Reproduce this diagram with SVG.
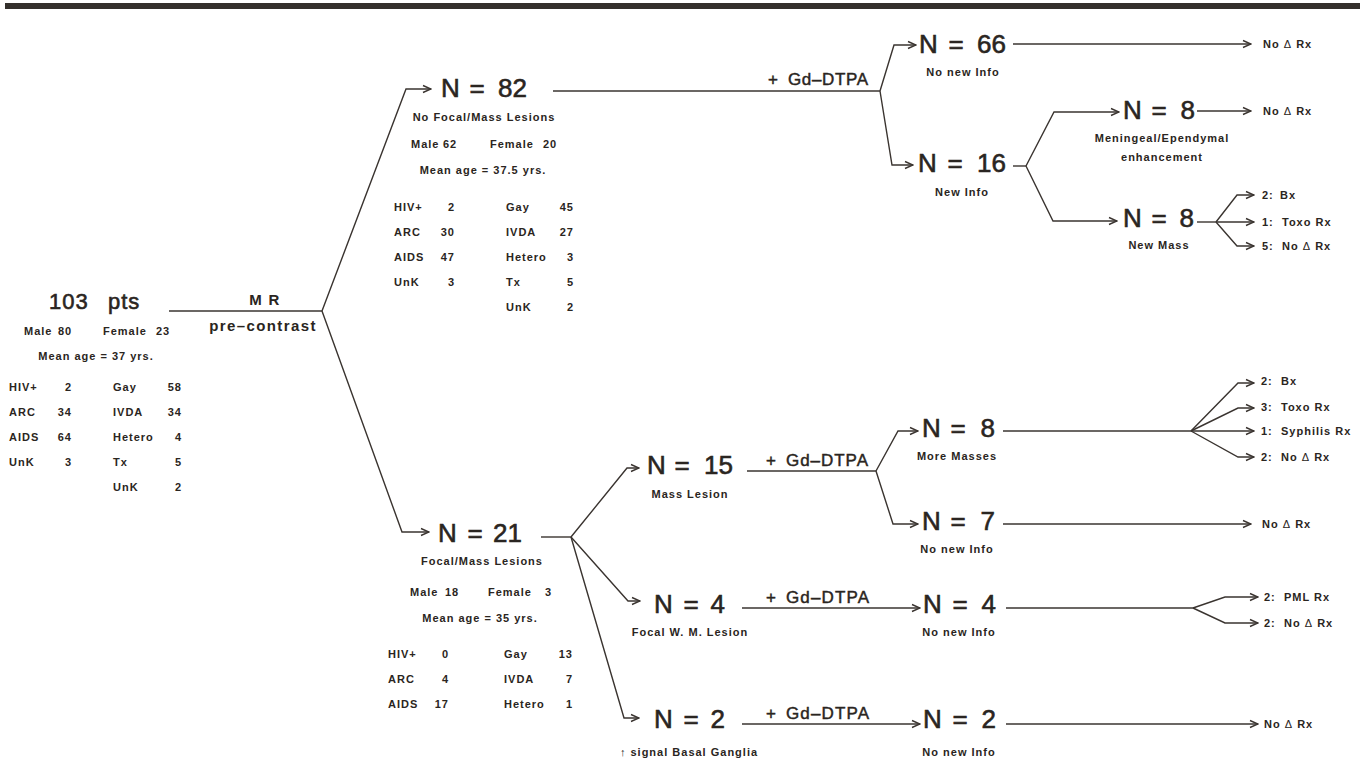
<svg xmlns="http://www.w3.org/2000/svg" width="1365" height="761" viewBox="0 0 1365 761">
<style>
text{font-family:"Liberation Sans",Arial,Helvetica,sans-serif;fill:#2a2521}
.big{font-size:26px;stroke:#2a2521;stroke-width:0.6}
.mid{font-size:17px;stroke:#2a2521;stroke-width:0.45}
.s{font-size:11px;font-weight:bold;letter-spacing:1px}
.t{font-size:15px;font-weight:bold;letter-spacing:1.4px}
.c{text-anchor:middle}
.e{text-anchor:end}
.d{font-weight:normal}
.ln{fill:none;stroke:#3a3430;stroke-width:1.4}
.ar{fill:none;stroke:#3a3430;stroke-width:1.4;marker-end:url(#ah)}
</style>
<defs>
<marker id="ah" markerWidth="10" markerHeight="10" viewBox="0 0 10 10" refX="9" refY="5" orient="auto" markerUnits="userSpaceOnUse">
<path d="M1,1.5 L9,5 L1,8.5" fill="none" stroke="#3a3430" stroke-width="1.4"/>
</marker>
</defs>
<rect x="5" y="3" width="1355" height="6" fill="#34302c"/>

<g id="connectors">
<path class="ln" d="M169,311 H322"/>
<path class="ar" d="M322,311 L406,89 H431"/>
<path class="ar" d="M322,311 L402,532 H429"/>
<path class="ln" d="M553,91 H880"/>
<path class="ar" d="M880,91 L894,45 H916"/>
<path class="ar" d="M880,91 L892,165 H913"/>
<path class="ar" d="M1013,44 H1251"/>
<path class="ln" d="M1013,166 H1026"/>
<path class="ar" d="M1026,166 L1054,112 H1119"/>
<path class="ar" d="M1026,166 L1053,221 H1117"/>
<path class="ar" d="M1197,111 H1251"/>
<path class="ln" d="M1197,222 H1216"/>
<path class="ar" d="M1216,222 L1237,195 H1254"/>
<path class="ar" d="M1216,222 H1254"/>
<path class="ar" d="M1216,222 L1237,246 H1254"/>
<path class="ln" d="M541,537 H571"/>
<path class="ar" d="M571,537 L627,468 H639"/>
<path class="ar" d="M571,537 L628,601 H640"/>
<path class="ar" d="M571,537 L624,718 H639"/>
<path class="ln" d="M747,471 H876"/>
<path class="ar" d="M876,471 L898,431 H918"/>
<path class="ar" d="M876,471 L893,524 H918"/>
<path class="ln" d="M1003,431 H1191"/>
<path class="ar" d="M1191,431 L1238,383 H1254"/>
<path class="ar" d="M1191,431 L1238,408 H1254"/>
<path class="ar" d="M1191,431 H1254"/>
<path class="ar" d="M1191,431 L1238,457 H1254"/>
<path class="ar" d="M1003,524 H1251"/>
<path class="ar" d="M742,608 H920"/>
<path class="ln" d="M1006,608 H1193"/>
<path class="ar" d="M1193,608 L1225,597 H1258"/>
<path class="ar" d="M1193,608 L1225,623 H1258"/>
<path class="ar" d="M742,724 H920"/>
<path class="ar" d="M1006,724 H1258"/>
</g>

<g id="edge-labels">
<text class="t c" x="265" y="305">M R</text>
<text class="t c" x="263" y="331">pre–contrast</text>
<text class="mid" x="768" y="85">+</text><text class="mid" x="788" y="85" textLength="80" lengthAdjust="spacing">Gd–DTPA</text>
<text class="mid" x="766" y="466">+</text><text class="mid" x="786" y="466" textLength="82" lengthAdjust="spacing">Gd–DTPA</text>
<text class="mid" x="766" y="603">+</text><text class="mid" x="786" y="603" textLength="83" lengthAdjust="spacing">Gd–DTPA</text>
<text class="mid" x="766" y="719">+</text><text class="mid" x="786" y="719" textLength="83" lengthAdjust="spacing">Gd–DTPA</text>
</g>

<g id="node-103">
<text class="big" x="49" y="309" style="font-size:22px;letter-spacing:1px">103</text>
<text class="big" x="108" y="309" style="font-size:22px;letter-spacing:1px">pts</text>
<text class="s" x="24" y="335">Male</text><text class="s" x="58" y="335">80</text>
<text class="s" x="103" y="335">Female</text><text class="s" x="156" y="335">23</text>
<text class="s c" x="96" y="360">Mean age = 37 yrs.</text>
<text class="s" x="9" y="391">HIV+</text><text class="s e" x="72" y="391">2</text>
<text class="s" x="9" y="416">ARC</text><text class="s e" x="72" y="416">34</text>
<text class="s" x="9" y="441">AIDS</text><text class="s e" x="72" y="441">64</text>
<text class="s" x="9" y="466">UnK</text><text class="s e" x="72" y="466">3</text>
<text class="s" x="113" y="391">Gay</text><text class="s e" x="182" y="391">58</text>
<text class="s" x="113" y="416">IVDA</text><text class="s e" x="182" y="416">34</text>
<text class="s" x="113" y="441">Hetero</text><text class="s e" x="182" y="441">4</text>
<text class="s" x="113" y="466">Tx</text><text class="s e" x="182" y="466">5</text>
<text class="s" x="113" y="491">UnK</text><text class="s e" x="182" y="491">2</text>
</g>

<g id="node-82">
<text class="big" x="441" y="97">N</text><text class="big c" x="477" y="97">=</text><text class="big e" x="527" y="97">82</text>
<text class="s c" x="484" y="121">No Focal/Mass Lesions</text>
<text class="s" x="411" y="148">Male</text><text class="s" x="443" y="148">62</text>
<text class="s" x="490" y="148">Female</text><text class="s" x="543" y="148">20</text>
<text class="s c" x="483" y="174">Mean age = 37.5 yrs.</text>
<text class="s" x="394" y="211">HIV+</text><text class="s e" x="455" y="211">2</text>
<text class="s" x="394" y="236">ARC</text><text class="s e" x="455" y="236">30</text>
<text class="s" x="394" y="261">AIDS</text><text class="s e" x="455" y="261">47</text>
<text class="s" x="394" y="286">UnK</text><text class="s e" x="455" y="286">3</text>
<text class="s" x="506" y="211">Gay</text><text class="s e" x="574" y="211">45</text>
<text class="s" x="506" y="236">IVDA</text><text class="s e" x="574" y="236">27</text>
<text class="s" x="506" y="261">Hetero</text><text class="s e" x="574" y="261">3</text>
<text class="s" x="506" y="286">Tx</text><text class="s e" x="574" y="286">5</text>
<text class="s" x="506" y="311">UnK</text><text class="s e" x="574" y="311">2</text>
</g>

<g id="node-21">
<text class="big" x="438" y="542">N</text><text class="big c" x="475" y="542">=</text><text class="big e" x="522" y="542">21</text>
<text class="s c" x="482" y="565">Focal/Mass Lesions</text>
<text class="s" x="410" y="596">Male</text><text class="s" x="445" y="596">18</text>
<text class="s" x="488" y="596">Female</text><text class="s" x="545" y="596">3</text>
<text class="s c" x="480" y="622">Mean age = 35 yrs.</text>
<text class="s" x="388" y="658">HIV+</text><text class="s e" x="449" y="658">0</text>
<text class="s" x="388" y="683">ARC</text><text class="s e" x="449" y="683">4</text>
<text class="s" x="388" y="708">AIDS</text><text class="s e" x="449" y="708">17</text>
<text class="s" x="504" y="658">Gay</text><text class="s e" x="573" y="658">13</text>
<text class="s" x="504" y="683">IVDA</text><text class="s e" x="573" y="683">7</text>
<text class="s" x="504" y="708">Hetero</text><text class="s e" x="573" y="708">1</text>
</g>

<g id="node-66">
<text class="big" x="919" y="53">N</text><text class="big c" x="956" y="53">=</text><text class="big e" x="1006" y="53">66</text>
<text class="s c" x="963" y="76">No new Info</text>
</g>
<g id="node-16">
<text class="big" x="918" y="172">N</text><text class="big c" x="955" y="172">=</text><text class="big e" x="1006" y="172">16</text>
<text class="s c" x="962" y="196">New Info</text>
</g>
<g id="node-8-meningeal">
<text class="big" x="1123" y="119">N</text><text class="big c" x="1159" y="119">=</text><text class="big e" x="1195" y="119">8</text>
<text class="s c" x="1162" y="142">Meningeal/Ependymal</text>
<text class="s c" x="1162" y="161">enhancement</text>
</g>
<g id="node-8-newmass">
<text class="big" x="1123" y="227">N</text><text class="big c" x="1159" y="227">=</text><text class="big e" x="1194" y="227">8</text>
<text class="s c" x="1159" y="249">New Mass</text>
</g>
<g id="node-15">
<text class="big" x="647" y="474">N</text><text class="big c" x="682" y="474">=</text><text class="big e" x="733" y="474">15</text>
<text class="s c" x="690" y="498">Mass Lesion</text>
</g>
<g id="node-4a">
<text class="big" x="654" y="613">N</text><text class="big c" x="691" y="613">=</text><text class="big e" x="725" y="613">4</text>
<text class="s c" x="690" y="636">Focal W. M. Lesion</text>
</g>
<g id="node-2a">
<text class="big" x="654" y="728">N</text><text class="big c" x="691" y="728">=</text><text class="big e" x="725" y="728">2</text>
<text class="s c" x="689" y="756">↑ signal Basal Ganglia</text>
</g>
<g id="node-8-more">
<text class="big" x="922" y="437">N</text><text class="big c" x="958" y="437">=</text><text class="big e" x="995" y="437">8</text>
<text class="s c" x="957" y="460">More Masses</text>
</g>
<g id="node-7">
<text class="big" x="922" y="530">N</text><text class="big c" x="958" y="530">=</text><text class="big e" x="995" y="530">7</text>
<text class="s c" x="957" y="553">No new Info</text>
</g>
<g id="node-4b">
<text class="big" x="923" y="613">N</text><text class="big c" x="960" y="613">=</text><text class="big e" x="996" y="613">4</text>
<text class="s c" x="959" y="636">No new Info</text>
</g>
<g id="node-2b">
<text class="big" x="923" y="728">N</text><text class="big c" x="960" y="728">=</text><text class="big e" x="996" y="728">2</text>
<text class="s c" x="959" y="756">No new Info</text>
</g>

<g id="outcomes">
<text class="s" x="1263" y="48">No <tspan class="d">Δ</tspan> Rx</text>
<text class="s" x="1263" y="115">No <tspan class="d">Δ</tspan> Rx</text>
<text class="s" x="1262" y="199">2:</text><text class="s" x="1280" y="199">Bx</text>
<text class="s" x="1262" y="226">1:</text><text class="s" x="1282" y="226">Toxo Rx</text>
<text class="s" x="1262" y="250">5:</text><text class="s" x="1282" y="250">No <tspan class="d">Δ</tspan> Rx</text>
<text class="s" x="1261" y="385">2:</text><text class="s" x="1281" y="385">Bx</text>
<text class="s" x="1261" y="411">3:</text><text class="s" x="1281" y="411">Toxo Rx</text>
<text class="s" x="1261" y="435">1:</text><text class="s" x="1281" y="435">Syphilis Rx</text>
<text class="s" x="1261" y="461">2:</text><text class="s" x="1281" y="461">No <tspan class="d">Δ</tspan> Rx</text>
<text class="s" x="1262" y="528">No <tspan class="d">Δ</tspan> Rx</text>
<text class="s" x="1264" y="601">2:</text><text class="s" x="1284" y="601">PML Rx</text>
<text class="s" x="1264" y="627">2:</text><text class="s" x="1284" y="627">No <tspan class="d">Δ</tspan> Rx</text>
<text class="s" x="1264" y="728">No <tspan class="d">Δ</tspan> Rx</text>
</g>
</svg>
